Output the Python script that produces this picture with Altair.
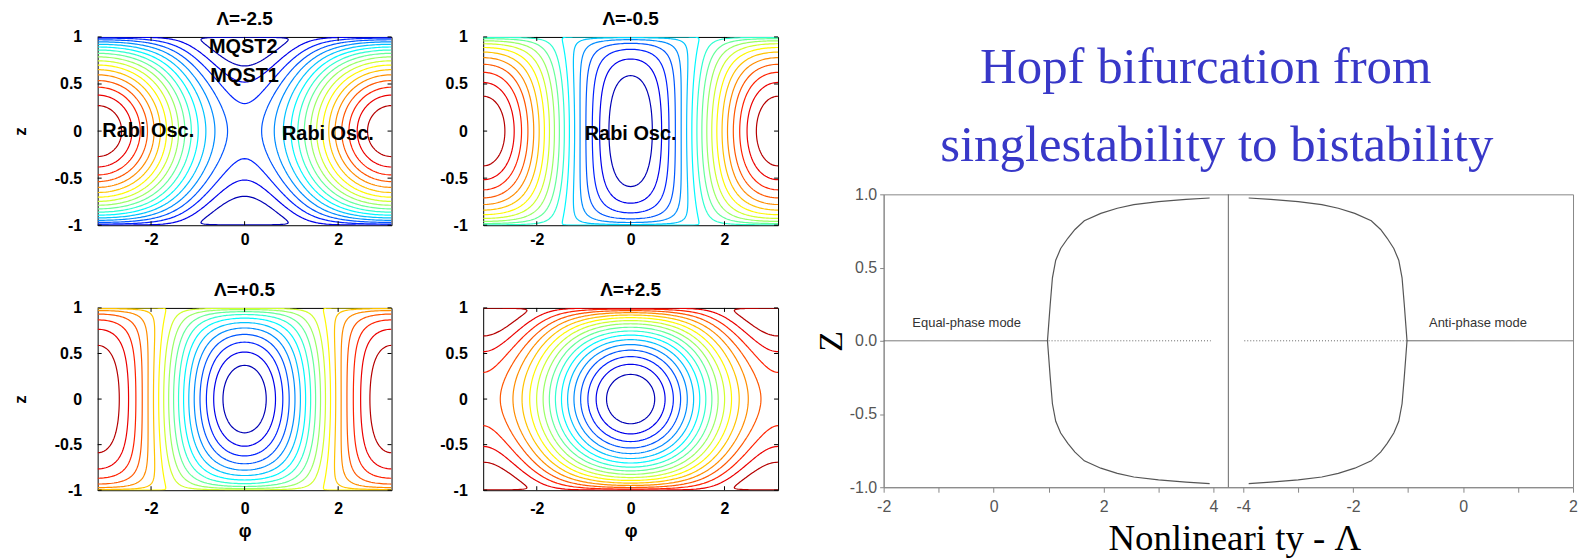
import numpy as np
import pandas as pd
import altair as alt

SANS = "Liberation Sans"
SERIF = "Liberation Serif"

# ---------------- contour panels (left) ----------------
LAMBDAS = [-2.5, -0.5, 0.5, 2.5]
PANEL_TITLES = ["Λ=-2.5", "Λ=-0.5", "Λ=+0.5", "Λ=+2.5"]
N_LEVELS = 18
PHI_TICKS = [-2, 0, 2]
Z_TICKS = [-1, -0.5, 0, 0.5, 1]

ANNOT_PANEL = [0, 0, 0, 0, 1]
ANNOT_TEXT = ["MQST2", "MQST1", "Rabi Osc.", "Rabi Osc.", "Rabi Osc."]
ANNOT_PHI = [-0.03, 0.0, -2.06, 1.78, 0.0]
ANNOT_Z = [0.89, 0.58, 0.0, -0.03, -0.03]

# ---------------- bifurcation diagram (right) ----------------
EQ_LAM = [0.98, 1.0, 1.03, 1.07, 1.13, 1.22, 1.35, 1.48, 1.65, 1.95, 2.25, 2.55, 3.0, 3.5, 3.93]
EQ_Z = [0.0, 0.10, 0.25, 0.43, 0.55, 0.63, 0.70, 0.76, 0.82, 0.87, 0.905, 0.93, 0.95, 0.965, 0.975]
AP_LAM = [-1.02, -1.04, -1.07, -1.11, -1.17, -1.26, -1.38, -1.5, -1.67, -1.97, -2.27, -2.57, -3.0, -3.5, -3.9]
AP_Z = [0.0, 0.10, 0.25, 0.43, 0.55, 0.63, 0.70, 0.76, 0.82, 0.87, 0.905, 0.93, 0.95, 0.965, 0.975]
# horizontal z=0 branches: (start, end, side, style)
H_START = [-2.0, 1.0, -3.98, -1.02]
H_END = [0.98, 3.95, -1.02, 2.0]
H_SIDE = ["L", "L", "R", "R"]
H_STYLE = ["solid", "dot", "dot", "solid"]
LEFT_TICKS = [-2, -1, 0, 1, 2, 3, 4]
RIGHT_TICKS = [-4, -3, -2, -1, 0, 1, 2]
RZ_TICKS = [-1, -0.75, -0.5, -0.25, 0, 0.25, 0.5, 0.75, 1]
MODE_TEXT = ["Equal-phase mode", "Anti-phase mode"]
MODE_LAM = [-0.49, 0.27]
MODE_SIDE = ["L", "R"]
MODE_Z = [0.12, 0.12]
HEAD_TEXT = ["Hopf bifurcation from", "singlestability to bistability"]
HEAD_U = [3.86, 4.06]
HEAD_Z = [1.76, 1.23]

BREAK_U = 4.27
SHIFT = 2 * BREAK_U  # right half: u = lambda + SHIFT


def jet(t):
    r = float(np.clip(min(4 * t - 1.5, -4 * t + 4.5), 0, 1))
    g = float(np.clip(min(4 * t - 0.5, -4 * t + 3.5), 0, 1))
    b = float(np.clip(min(4 * t + 0.5, -4 * t + 2.5), 0, 1))
    return "#%02x%02x%02x" % (round(r * 255), round(g * 255), round(b * 255))


def march(xs, ys, F, level):
    above = F > level
    c = (above[:-1, :-1].astype(int) | (above[:-1, 1:].astype(int) << 1)
         | (above[1:, 1:].astype(int) << 2) | (above[1:, :-1].astype(int) << 3))
    jj, ii = np.nonzero((c != 0) & (c != 15))

    def ih(i, j):
        f0, f1 = F[j, i], F[j, i + 1]
        t = (level - f0) / (f1 - f0)
        return (xs[i] + t * (xs[i + 1] - xs[i]), ys[j])

    def iv(i, j):
        f0, f1 = F[j, i], F[j + 1, i]
        t = (level - f0) / (f1 - f0)
        return (xs[i], ys[j] + t * (ys[j + 1] - ys[j]))

    segs = []
    for j, i in zip(jj, ii):
        case = int(c[j, i])
        b = [(case >> k) & 1 for k in range(4)]
        e = {}
        if b[0] != b[1]:
            e[0] = (("h", i, j), ih(i, j))
        if b[1] != b[2]:
            e[1] = (("v", i + 1, j), iv(i + 1, j))
        if b[3] != b[2]:
            e[2] = (("h", i, j + 1), ih(i, j + 1))
        if b[0] != b[3]:
            e[3] = (("v", i, j), iv(i, j))
        if len(e) == 2:
            a, bb = list(e.values())
            segs.append((a, bb))
        elif len(e) == 4:
            center = (F[j, i] + F[j, i + 1] + F[j + 1, i] + F[j + 1, i + 1]) / 4
            if (case == 5) == (center > level):
                segs.append((e[0], e[1]))
                segs.append((e[2], e[3]))
            else:
                segs.append((e[0], e[3]))
                segs.append((e[1], e[2]))
    adj = {}
    for s, (a, bb) in enumerate(segs):
        adj.setdefault(a[0], []).append(s)
        adj.setdefault(bb[0], []).append(s)
    used = [False] * len(segs)
    paths = []
    for s0 in range(len(segs)):
        if used[s0]:
            continue
        used[s0] = True
        path = [segs[s0][0], segs[s0][1]]
        for _ in range(2):
            while True:
                key = path[-1][0]
                nxt = None
                for s in adj.get(key, []):
                    if not used[s]:
                        nxt = s
                        break
                if nxt is None:
                    break
                used[nxt] = True
                p, q = segs[nxt]
                path.append(q if p[0] == key else p)
            path.reverse()
        paths.append([pt for _, pt in path])
    return paths


PHI_GRID = np.linspace(-np.pi, np.pi, 145)
Z_GRID = np.sin(np.linspace(-np.pi / 2, np.pi / 2, 161))
PH, ZZ = np.meshgrid(PHI_GRID, Z_GRID)

rows = []
pid = 0
for k, lam in enumerate(LAMBDAS):
    H = lam * ZZ ** 2 / 2 - np.sqrt(np.clip(1 - ZZ ** 2, 0, None)) * np.cos(PH)
    hmin, hmax = H.min(), H.max()
    levels = np.linspace(hmin, hmax, N_LEVELS + 2)[1:-1]
    for lev in levels:
        col = jet((lev - hmin) / (hmax - hmin))
        for path in march(PHI_GRID, Z_GRID, H, lev):
            for i, (x, y) in enumerate(path):
                rows.append((k, pid, i, round(float(x), 4), round(float(y), 4), col))
            pid += 1
contour_df = pd.DataFrame(rows, columns=["panel", "pid", "idx", "phi", "z", "color"])
annot_df = pd.DataFrame({"panel": ANNOT_PANEL, "text": ANNOT_TEXT, "phi": ANNOT_PHI, "z": ANNOT_Z})
phi_tick_df = pd.DataFrame({"phi": PHI_TICKS})
z_tick_df = pd.DataFrame({"z": Z_TICKS})

P_W = [295, 296, 295, 296]
P_H = [189, 189, 183, 183]


def contour_panel(k):
    w, h = P_W[k], P_H[k]
    xsc = alt.Scale(domain=[-np.pi, np.pi], nice=False, zero=False)
    ysc = alt.Scale(domain=[-1, 1], nice=False, zero=False)
    xax = dict(values=PHI_TICKS, labelExpr="'' + datum.value", domain=False, ticks=False,
               grid=False, labelFont=SANS, labelFontSize=16, labelFontWeight="bold",
               labelColor="black", labelPadding=6 if k < 2 else 10, labelFlush=False)
    yax = dict(values=Z_TICKS, labelExpr="'' + datum.value", domain=False, ticks=False,
               grid=False, labelFont=SANS, labelFontSize=16, labelFontWeight="bold",
               labelColor="black", labelPadding=16, labelFlush=False)
    if k >= 2:
        xax.update(titleFont=SANS, titleFontSize=18, titleFontWeight="bold",
                   titleColor="black", titlePadding=6)
    if k in (0, 2):
        yax.update(titleFont=SANS, titleFontSize=17, titleFontWeight="bold",
                   titleColor="black", titlePadding=25)
    xt = "φ" if k >= 2 else None
    yt = "z" if k in (0, 2) else None

    def X():
        return alt.X("phi:Q", scale=xsc, axis=alt.Axis(**xax), title=xt)

    def Y():
        return alt.Y("z:Q", scale=ysc, axis=alt.Axis(**yax), title=yt)

    lines = alt.Chart(contour_df).transform_filter(alt.datum.panel == k).mark_line(
        strokeWidth=1.2, clip=True
    ).encode(
        x=X(), y=Y(),
        color=alt.Color("color:N", scale=None),
        detail="pid:N",
        order="idx:Q",
    )
    tb = alt.Chart(phi_tick_df).mark_rule(color="black", strokeWidth=1).encode(
        x=X(), y=alt.value(h), y2=alt.value(h - 4))
    tt = alt.Chart(phi_tick_df).mark_rule(color="black", strokeWidth=1).encode(
        x=X(), y=alt.value(0), y2=alt.value(4))
    tl = alt.Chart(z_tick_df).mark_rule(color="black", strokeWidth=1).encode(
        y=Y(), x=alt.value(0), x2=alt.value(4))
    tr = alt.Chart(z_tick_df).mark_rule(color="black", strokeWidth=1).encode(
        y=Y(), x=alt.value(w), x2=alt.value(w - 4))
    layers = [lines, tb, tt, tl, tr]
    if k in ANNOT_PANEL:
        txt = alt.Chart(annot_df).transform_filter(alt.datum.panel == k).mark_text(
            font=SANS, fontSize=20, fontWeight="bold", color="black"
        ).encode(x=X(), y=Y(), text="text:N")
        layers.append(txt)
    return alt.layer(*layers).properties(
        width=w, height=h,
        title=alt.Title(PANEL_TITLES[k], font=SANS, fontSize=19, fontWeight="bold",
                        color="black", offset=0, frame="group"),
    )


# ---------------- right panel data ----------------
def u_of(lam, side):
    return lam if side == "L" else lam + SHIFT


crow = []
for name, lams, zs, side in [("eq", EQ_LAM, EQ_Z, "L"), ("ap", AP_LAM, AP_Z, "R")]:
    pts = [(l, -z) for l, z in zip(lams[::-1], zs[::-1])] + [(l, z) for l, z in zip(lams[1:], zs[1:])]
    for i, (l, z) in enumerate(pts):
        crow.append((name, i, u_of(l, side), z))
curve_df = pd.DataFrame(crow, columns=["branch", "idx", "u", "z"])
hline_df = pd.DataFrame({
    "u1": [u_of(a, s) for a, s in zip(H_START, H_SIDE)],
    "u2": [u_of(b, s) for b, s in zip(H_END, H_SIDE)],
    "z": [0.0] * len(H_START),
    "style": H_STYLE,
})
vline_df = pd.DataFrame({"u": [BREAK_U], "z1": [-1.0], "z2": [1.0]})
mode_df = pd.DataFrame({"text": MODE_TEXT,
                        "u": [u_of(l, s) for l, s in zip(MODE_LAM, MODE_SIDE)],
                        "z": MODE_Z})
head_df = pd.DataFrame({"text": HEAD_TEXT, "u": HEAD_U, "z": HEAD_Z})

x_vals = [float(v) for v in LEFT_TICKS] + [round(v + SHIFT, 4) for v in RIGHT_TICKS]
x_label_expr = (
    f"datum.value < {BREAK_U} ? (round(datum.value) % 2 == 0 ? '' + round(datum.value) : '') : "
    f"(round(datum.value - {SHIFT}) % 2 == 0 ? '' + round(datum.value - {SHIFT}) : '')"
)
y_label_expr = ("abs(datum.value * 2 - round(datum.value * 2)) < 0.01 ? "
                "replace(format(datum.value, '.1f'), '\u2212', '-') : ''")

RW, RH = 692, 294
rxs = alt.Scale(domain=[-2, 2 + SHIFT], nice=False, zero=False)
rys = alt.Scale(domain=[-1, 1], nice=False, zero=False)

rx_axis = alt.Axis(values=x_vals, labelExpr=x_label_expr, grid=False, labelFlush=False,
                   labelOverlap=False, labelFont=SANS, labelFontSize=16, labelColor="#555",
                   domainColor="#888", tickColor="#888", tickSize=5, labelPadding=6,
                   titleFont=SERIF, titleFontSize=37, titleFontWeight="normal",
                   titleColor="black", titlePadding=7, titleX=352)
ry_axis = alt.Axis(values=RZ_TICKS, labelExpr=y_label_expr, grid=False, labelFlush=False,
                   labelOverlap=False, labelFont=SANS, labelFontSize=16, labelColor="#555",
                   domainColor="#888", tickColor="#888", tickSize=4, labelPadding=3,
                   titleFont=SERIF, titleFontSize=34, titleFontWeight="normal",
                   titleColor="black", titlePadding=1)

hl = alt.Chart(hline_df).mark_rule(color="#666", strokeWidth=1).encode(
    x=alt.X("u1:Q", scale=rxs, axis=rx_axis, title="Nonlineari ty - Λ"),
    x2="u2:Q",
    y=alt.Y("z:Q", scale=rys, axis=ry_axis, title="Z"),
    strokeDash=alt.StrokeDash("style:N", scale=alt.Scale(domain=["solid", "dot"], range=[[1, 0], [1, 2]]), legend=None),
)
vl = alt.Chart(vline_df).mark_rule(color="#666", strokeWidth=1).encode(
    x="u:Q", y="z1:Q", y2="z2:Q")
cv = alt.Chart(curve_df).mark_line(color="#555", strokeWidth=1.2).encode(
    x="u:Q", y="z:Q", detail="branch:N", order="idx:Q")
md = alt.Chart(mode_df).mark_text(font=SANS, fontSize=13, color="#333").encode(
    x="u:Q", y="z:Q", text="text:N")
hd = alt.Chart(head_df).mark_text(font=SERIF, fontSize=51, color="#3838c8",
                                  baseline="alphabetic", align="center").encode(
    x="u:Q", y="z:Q", text="text:N")

right = alt.layer(hl, vl, cv, md, hd).properties(
    width=RW, height=RH,
    view=alt.ViewBackground(stroke="#888"),
)

spacer = alt.Chart(pd.DataFrame({"s": [0]})).mark_point(opacity=0).encode(
    x=alt.X("s:Q", axis=None), y=alt.Y("s:Q", axis=None)
).properties(width=20, height=158, view=alt.ViewBackground(strokeOpacity=0))

row1 = alt.hconcat(contour_panel(0), contour_panel(1), spacing=92, bounds="flush")
row2 = alt.hconcat(contour_panel(2), contour_panel(3), spacing=92, bounds="flush")
left = alt.vconcat(row1, row2, spacing=32)
right_col = alt.vconcat(spacer, right, spacing=0, bounds="flush")

chart = alt.hconcat(left, right_col, spacing=34).properties(
    padding={"left": 2, "top": 0, "right": 2, "bottom": 2},
    background="white",
).configure_view(stroke="black", strokeWidth=1)

chart.save("out.html", embed_options={"renderer": "svg", "actions": False})
